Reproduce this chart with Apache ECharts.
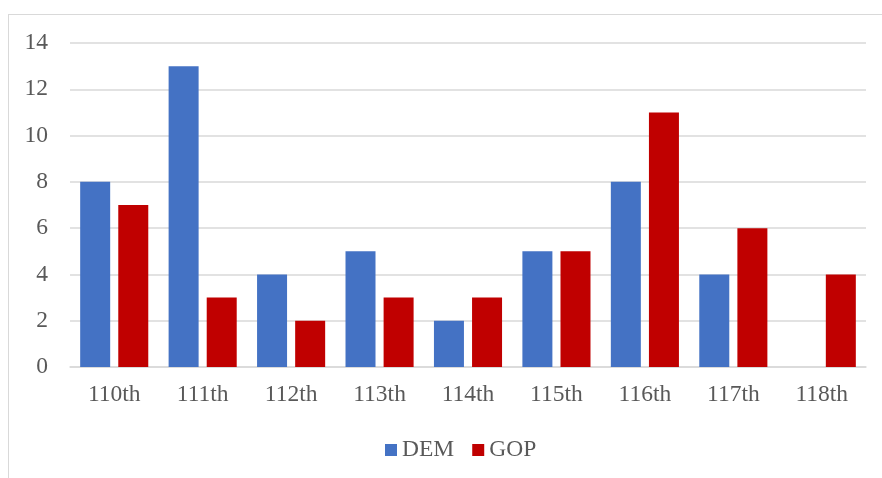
<!DOCTYPE html>
<html>
<head>
<meta charset="utf-8">
<script src="https://cdn.jsdelivr.net/npm/echarts@6/dist/echarts.min.js"></script>
<style>
  html, body { margin: 0; padding: 0; background: #fff; }
  #frame { position: absolute; left: 8px; top: 14px; width: 890px; height: 480px; border: 1px solid #d9d9d9; box-sizing: border-box; }
  #chart { position: absolute; left: 0; top: 0; width: 882px; height: 478px; }
</style>
</head>
<body>
<div id="frame"></div>
<div id="chart"></div>
<script>
// Congress sessions and counts per party
const congresses = ['110th', '111th', '112th', '113th', '114th', '115th', '116th', '117th', '118th'];
const demCounts = [8, 13, 4, 5, 2, 5, 8, 4, null];
const gopCounts = [7, 3, 2, 3, 3, 5, 11, 6, 4];
const yTicks = { min: 0, max: 14, interval: 2 };

const textColor = '#595959';
const fontFamily = '"Liberation Serif", "Times New Roman", serif';
const fontSize = 23.5;

const chart = echarts.init(document.getElementById('chart'), null, { renderer: 'canvas' });
chart.setOption({
  animation: false,
  textStyle: { fontFamily: fontFamily },
  grid: { left: 70, right: 16, top: 43, bottom: 111, containLabel: false },
  legend: {
    data: ['DEM', 'GOP'],
    top: 433,
    left: 380,
    icon: 'rect',
    itemWidth: 12,
    itemHeight: 12,
    itemGap: 18,
    textStyle: { color: textColor, fontSize: fontSize, fontFamily: fontFamily }
  },
  xAxis: {
    type: 'category',
    data: congresses,
    axisTick: { show: false },
    axisLine: { lineStyle: { color: '#d9d9d9', width: 1.5 } },
    axisLabel: { color: textColor, fontSize: fontSize, margin: 16, fontFamily: fontFamily }
  },
  yAxis: {
    type: 'value',
    min: yTicks.min,
    max: yTicks.max,
    interval: yTicks.interval,
    axisLine: { show: false },
    axisTick: { show: false },
    splitLine: { lineStyle: { color: '#d9d9d9', width: 1.5 } },
    axisLabel: { color: textColor, fontSize: fontSize, margin: 22, fontFamily: fontFamily }
  },
  series: [
    {
      name: 'DEM',
      type: 'bar',
      data: demCounts,
      barWidth: 30,
      barGap: '27%',
      itemStyle: { color: '#4472c4' }
    },
    {
      name: 'GOP',
      type: 'bar',
      data: gopCounts,
      barWidth: 30,
      barGap: '27%',
      itemStyle: { color: '#c00000' }
    }
  ]
});
</script>
</body>
</html>
